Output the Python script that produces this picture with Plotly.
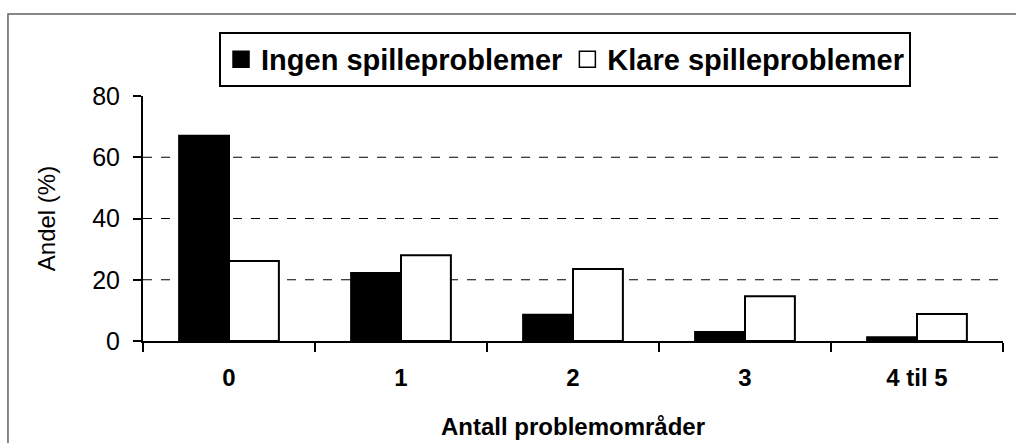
import plotly.graph_objects as go

# Data
categories = ["0", "1", "2", "3", "4 til 5"]
ingen = [67.0, 22.2, 8.6, 2.9, 1.2]
klare = [26.1, 28.0, 23.5, 14.6, 8.8]
grid_vals = [20, 40, 60]
y_ticks = [0, 20, 40, 60, 80]

FONT = "Liberation Sans, Arial, sans-serif"

fig = go.Figure()
fig.add_trace(go.Bar(
    x=categories, y=ingen, name="Ingen spilleproblemer", showlegend=False,
    marker=dict(color="black", line=dict(color="black", width=2)),
))
fig.add_trace(go.Bar(
    x=categories, y=klare, name="Klare spilleproblemer", showlegend=False,
    marker=dict(color="white", line=dict(color="black", width=2)),
))

# legend entries with larger square swatches
fig.add_trace(go.Scatter(
    x=[None], y=[None], mode="markers", name="Ingen spilleproblemer",
    marker=dict(symbol="square", size=21, color="black", line=dict(color="black", width=1.5)),
))
fig.add_trace(go.Scatter(
    x=[None], y=[None], mode="markers", name="Klare spilleproblemer",
    marker=dict(symbol="square", size=19, color="white", line=dict(color="black", width=1.5)),
))

# dashed horizontal gridlines
for v in grid_vals:
    fig.add_shape(type="line", xref="paper", yref="y", x0=0, x1=1, y0=v, y1=v,
                  line=dict(color="black", width=1, dash="dash"), layer="below")

# outer frame (left/top visible in reference)
fig.add_shape(type="rect", xref="paper", yref="paper",
              x0=-0.157, x1=1.05, y0=-0.6, y1=1.335,
              line=dict(color="#606060", width=1.5), layer="below")

fig.update_layout(
    width=1016, height=443,
    margin=dict(l=143, r=13, t=96, b=102, autoexpand=False),
    paper_bgcolor="white", plot_bgcolor="white",
    font=dict(family=FONT, size=24, color="black"),
    barmode="group", bargap=0.42, bargroupgap=0,
    showlegend=True,
    legend=dict(
        orientation="h", x=0.0884, y=1.262, xanchor="left", yanchor="top",
        bordercolor="black", borderwidth=2,
        font=dict(family=FONT, size=29, color="black", weight="bold"),
        itemwidth=30, tracegroupgap=0,
    ),
    xaxis=dict(
        showline=True, linecolor="black", linewidth=2,
        ticks="outside", tickson="boundaries", ticklen=9, tickwidth=2, tickcolor="black",
        tickfont=dict(family=FONT, size=24, weight="bold"),
        ticklabelstandoff=14,
        showgrid=False,
        title=dict(text="Antall problemområder", font=dict(family=FONT, size=24, weight="bold"), standoff=28),
    ),
    yaxis=dict(
        range=[0, 80], tickvals=y_ticks,
        showline=True, linecolor="black", linewidth=2,
        ticks="outside", ticklen=8, tickwidth=2, tickcolor="black",
        tickfont=dict(family=FONT, size=25),
        ticklabelstandoff=8,
        showgrid=False, zeroline=False,
        title=dict(text="Andel (%)", font=dict(family=FONT, size=24), standoff=30),
    ),
    # short inside tick stubs so ticks cross the axis as in the reference
    yaxis2=dict(
        range=[0, 80], tickvals=y_ticks, overlaying="y", side="left",
        ticks="inside", ticklen=5, tickwidth=2, tickcolor="black",
        showticklabels=False, showline=False, showgrid=False, zeroline=False,
    ),
)

fig.write_html(
    "out.html",
    config={"displayModeBar": False},
    post_script="document.body.style.margin='0';",
)
